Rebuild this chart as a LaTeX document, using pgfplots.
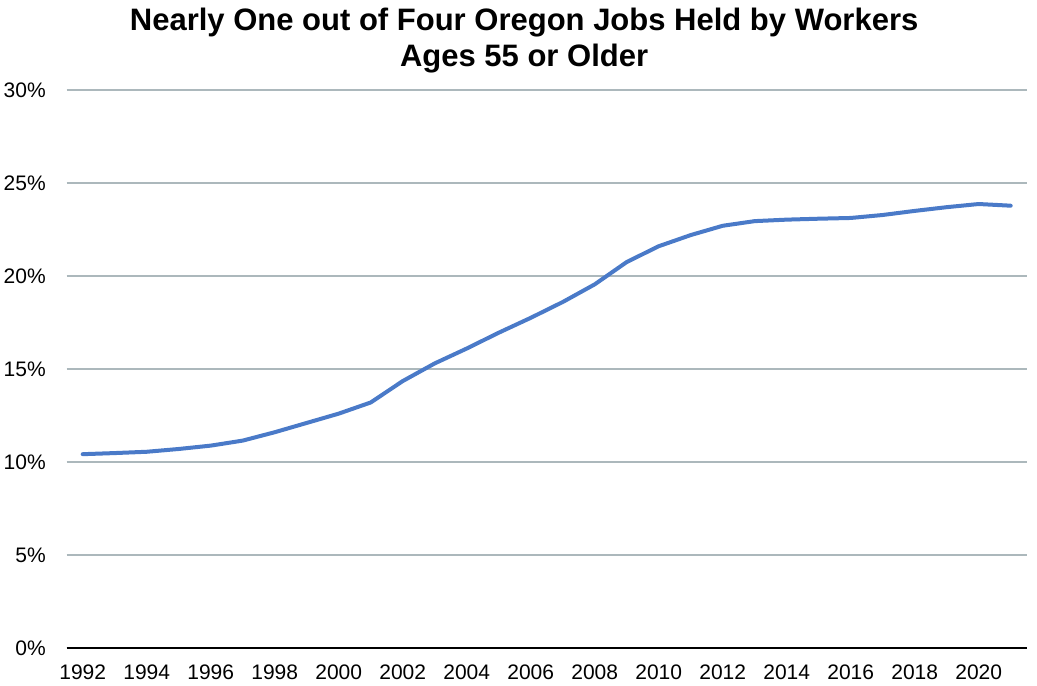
\documentclass[border=0pt]{standalone}
\usepackage{fontspec}
\setmainfont{Liberation Sans}
\usepackage{pgfplots}
\pgfplotsset{compat=1.18}
\definecolor{linecol}{RGB}{74,122,200}
\definecolor{gridcol}{RGB}{172,184,188}
\begin{document}
\begin{tikzpicture}
\begin{axis}[
  scale only axis,
  width=480pt, height=279pt,
  xmin=1991.5, xmax=2021.5,
  ymin=0, ymax=30,
  xtick={1992,1994,...,2020},
  ytick={0,5,...,30},
  xticklabel style={/pgf/number format/1000 sep={}},
  /pgf/number format/assume math mode=true,
  yticklabel={\pgfmathprintnumber{\tick}\%},
  ymajorgrids,
  major grid style={gridcol, line width=0.7pt},
  major tick length=0pt,
  axis x line=bottom,
  axis y line=left,
  y axis line style={draw=none},
  x axis line style={-, black, line width=1pt},
  tick label style={font=\fontsize{10.5}{12}\selectfont, text=black},
  xticklabel style={anchor=north, inner sep=0pt, yshift=-8.3pt},
  yticklabel style={anchor=east, inner sep=0pt, xshift=-10.3pt},
  clip=false,
]
\addplot[linecol, line width=2pt, line join=round, line cap=round] coordinates {
(1992,10.42) (1993,10.48) (1994,10.55) (1995,10.70) (1996,10.88)
(1997,11.15) (1998,11.60) (1999,12.10) (2000,12.60) (2001,13.20)
(2002,14.35) (2003,15.30) (2004,16.10) (2005,16.95) (2006,17.75)
(2007,18.60) (2008,19.55) (2009,20.75) (2010,21.60) (2011,22.20)
(2012,22.70) (2013,22.95) (2014,23.03) (2015,23.08) (2016,23.12)
(2017,23.28) (2018,23.50) (2019,23.70) (2020,23.87) (2021,23.78)
};
\end{axis}
\node[anchor=base, inner sep=0pt, font=\fontsize{15.5}{18}\selectfont\bfseries] at (228.7pt,308.5pt) {Nearly One out of Four Oregon Jobs Held by Workers};
\node[anchor=base, inner sep=0pt, font=\fontsize{15.5}{18}\selectfont\bfseries] at (228.7pt,290.5pt) {Ages 55 or Older};
\pgfresetboundingbox
\path (-33.35pt,-18.5pt) rectangle (485.15pt,324pt);
\end{tikzpicture}
\end{document}
